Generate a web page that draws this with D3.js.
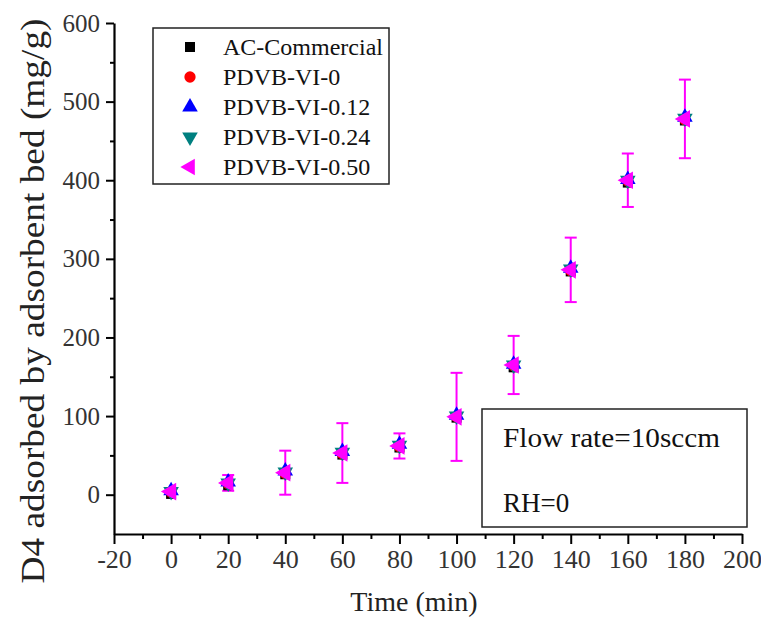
<!DOCTYPE html>
<html>
<head>
<meta charset="utf-8">
<script src="https://cdn.jsdelivr.net/npm/d3@7"></script>
<style>
  body { margin: 0; background: #fff; }
  svg text { font-family: "Liberation Serif", "Times New Roman", Times, serif !important; }
</style>
</head>
<body>
<div id="viz"></div>
<script>
// data
var times = [0, 20, 40, 60, 80, 100, 120, 140, 160, 180];
var acCommercial = [1, 12, 26, 51, 60, 98, 162, 284, 397, 476];
var pdvb0 = [3, 14, 27, 52, 61, 99, 164, 285, 399, 477];
var pdvb012 = [5, 16, 30, 55, 64, 101, 166, 288, 401, 480];
var pdvb024 = [4, 15, 29, 54, 63, 100, 165, 287, 400, 479];
var pdvb050 = [4, 15, 28, 53, 62, 99, 165, 286, 400, 478];
var pdvb050Err = [3, 10, 28, 38, 16, 56, 37, 41, 34, 50];

var seriesNames = ["AC-Commercial", "PDVB-VI-0", "PDVB-VI-0.12", "PDVB-VI-0.24", "PDVB-VI-0.50"];
var seriesColors = ["#000000", "#ff0000", "#0000ff", "#008080", "#ff00ff"];
var seriesValues = [acCommercial, pdvb0, pdvb012, pdvb024, pdvb050];

var xTicks = [-20, 0, 20, 40, 60, 80, 100, 120, 140, 160, 180, 200];
var yTicks = [0, 100, 200, 300, 400, 500, 600];
var noteLines = ["Flow rate=10sccm", "RH=0"];

var width = 761, height = 620;

var svg = d3.select("#viz").append("svg")
  .attr("width", width)
  .attr("height", height);

// scales
var x = d3.scaleLinear().domain([-20, 200]).range([114, 742]);
var y = d3.scaleLinear().domain([-50, 600]).range([534, 23]);

// symbols (marker + legend)
var symbolFor = [
  { type: d3.symbolSquare, size: 100, rot: 0 },
  { type: d3.symbolCircle, size: 100, rot: 0 },
  { type: d3.symbolTriangle, size: 105, rot: 0 },
  { type: d3.symbolTriangle, size: 105, rot: 180 },
  { type: d3.symbolTriangle, size: 135, rot: -90 }
];

// minor ticks
svg.append("g")
  .attr("transform", "translate(0," + y(-50) + ")")
  .call(d3.axisBottom(x).tickValues(d3.range(-10, 200, 20)).tickSize(5).tickFormat(""))
  .call(function (g) { g.select(".domain").remove(); })
  .selectAll("line").attr("stroke-width", 2);

svg.append("g")
  .attr("transform", "translate(" + x(-20) + ",0)")
  .call(d3.axisLeft(y).tickValues(d3.range(50, 600, 100)).tickSize(4).tickFormat(""))
  .call(function (g) { g.select(".domain").remove(); })
  .selectAll("line").attr("stroke-width", 2);

// x axis
var xAxis = svg.append("g")
  .attr("transform", "translate(0," + y(-50) + ")")
  .call(d3.axisBottom(x).tickValues(xTicks).tickSize(10).tickSizeOuter(0).tickPadding(6)
    .tickFormat(function (d) { return String(d); }));
xAxis.attr("font-size", 26);
xAxis.select(".domain").attr("stroke-width", 2.2);
xAxis.selectAll(".tick line").attr("stroke-width", 2);
xAxis.selectAll(".tick text").attr("fill", "#333");

// y axis
var yAxis = svg.append("g")
  .attr("transform", "translate(" + x(-20) + ",0)")
  .call(d3.axisLeft(y).tickValues(yTicks).tickSize(8).tickSizeOuter(0).tickPadding(6)
    .tickFormat(function (d) { return String(d); }));
yAxis.attr("font-size", 25);
yAxis.select(".domain").attr("stroke-width", 2.2);
yAxis.selectAll(".tick line").attr("stroke-width", 2);
yAxis.selectAll(".tick text").attr("fill", "#333");

// axis titles
svg.append("text")
  .attr("x", 414)
  .attr("y", 611)
  .attr("text-anchor", "middle")
  .attr("font-size", 28)
  .attr("fill", "#222")
  .text("Time (min)");

svg.append("text")
  .attr("transform", "translate(44,301) rotate(-90)")
  .attr("text-anchor", "middle")
  .attr("font-size", 33)
  .attr("fill", "#222")
  .attr("textLength", 565)
  .attr("lengthAdjust", "spacingAndGlyphs")
  .text("D4 adsorbed by adsorbent bed (mg/g)");

// error bars for PDVB-VI-0.50
var errG = svg.append("g").attr("stroke", "#ff00ff").attr("stroke-width", 2);
times.forEach(function (t, i) {
  var cx = x(t), top = y(pdvb050[i] + pdvb050Err[i]), bot = y(pdvb050[i] - pdvb050Err[i]);
  errG.append("line").attr("x1", cx).attr("x2", cx).attr("y1", top).attr("y2", bot);
  errG.append("line").attr("x1", cx - 6).attr("x2", cx + 6).attr("y1", top).attr("y2", top);
  errG.append("line").attr("x1", cx - 6).attr("x2", cx + 6).attr("y1", bot).attr("y2", bot);
});

// points
for (var s = 0; s < seriesValues.length; s++) {
  var sym = symbolFor[s];
  svg.append("g").selectAll("path")
    .data(times.map(function (t, i) { return [t, seriesValues[s][i]]; }))
    .enter().append("path")
    .attr("d", d3.symbol().type(sym.type).size(sym.size))
    .attr("transform", function (d) {
      return "translate(" + x(d[0]) + "," + y(d[1]) + ") rotate(" + sym.rot + ")";
    })
    .attr("fill", seriesColors[s]);
}

// legend
var legend = svg.append("g");
legend.append("rect")
  .attr("x", 153).attr("y", 28)
  .attr("width", 236).attr("height", 156)
  .attr("fill", "none").attr("stroke", "#222").attr("stroke-width", 1.5);
seriesNames.forEach(function (name, i) {
  var ly = 47 + i * 30;
  var sym = symbolFor[i];
  legend.append("path")
    .attr("d", d3.symbol().type(sym.type).size(i == 4 ? 120 : sym.size))
    .attr("transform", "translate(190," + ly + ") rotate(" + sym.rot + ")")
    .attr("fill", seriesColors[i]);
  legend.append("text")
    .attr("x", 223).attr("y", ly + 8)
    .attr("font-size", 24)
    .attr("fill", "#111")
    .text(name);
});

// note box
svg.append("rect")
  .attr("x", 482).attr("y", 409)
  .attr("width", 265).attr("height", 118)
  .attr("fill", "none").attr("stroke", "#222").attr("stroke-width", 1.5);
svg.append("text")
  .attr("x", 503).attr("y", 447)
  .attr("font-size", 27)
  .attr("fill", "#111")
  .attr("textLength", 217)
  .attr("lengthAdjust", "spacingAndGlyphs")
  .text(noteLines[0]);
svg.append("text")
  .attr("x", 503).attr("y", 512)
  .attr("font-size", 27)
  .attr("fill", "#111")
  .text(noteLines[1]);
</script>
</body>
</html>
